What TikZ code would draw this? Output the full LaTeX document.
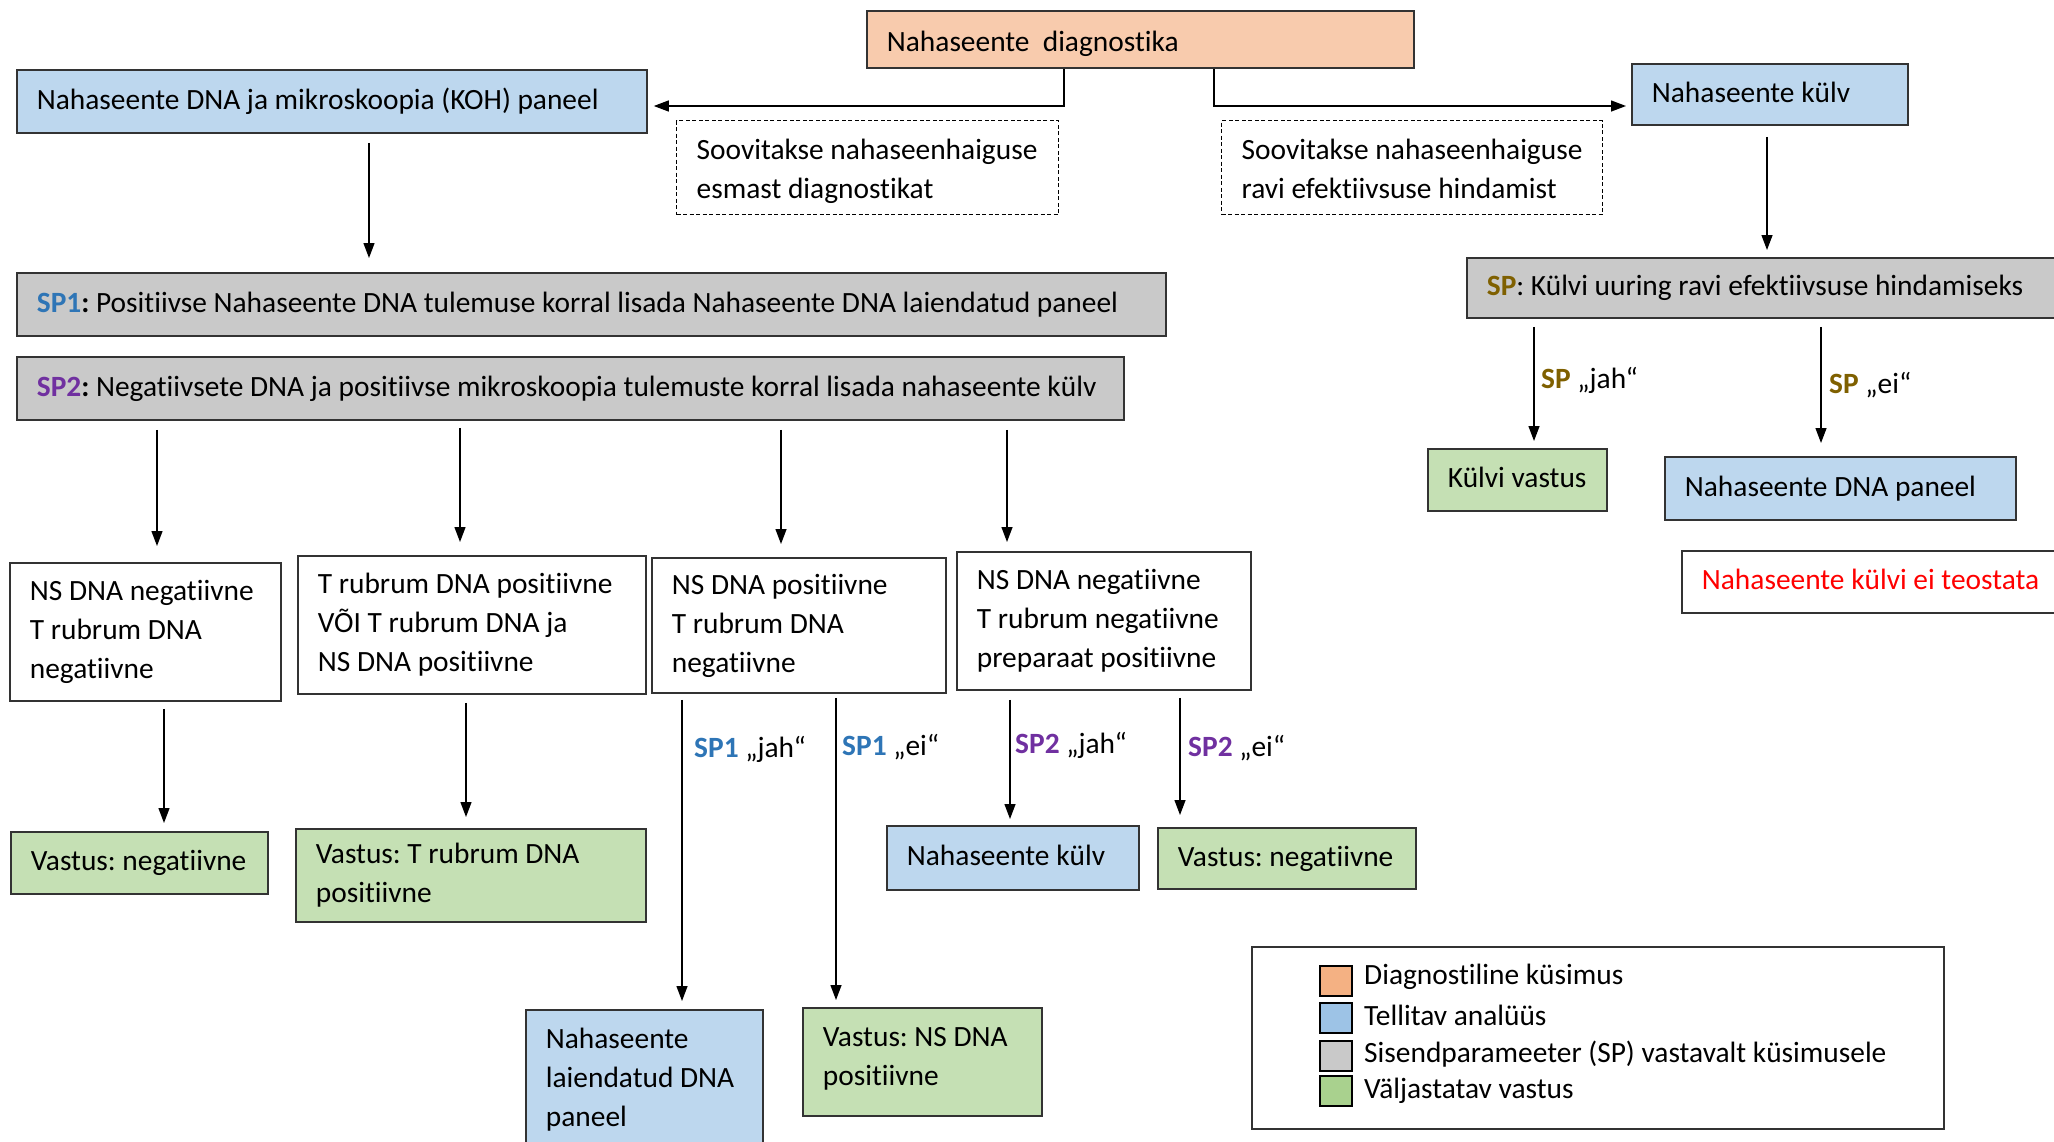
\documentclass[tikz,border=0pt]{standalone}
\usepackage{fontspec}
\setmainfont{Carlito}[Ligatures=NoCommon]
\usetikzlibrary{arrows.meta,calc}
\definecolor{orfill}{HTML}{F8CBAD}
\definecolor{blfill}{HTML}{BDD7EE}
\definecolor{grfill}{HTML}{C9C9C9}
\definecolor{gnfill}{HTML}{C5E0B4}
\definecolor{lgor}{HTML}{F4B183}
\definecolor{lgbl}{HTML}{9DC3E6}
\definecolor{lggr}{HTML}{C9C9C9}
\definecolor{lggn}{HTML}{A9D18E}
\definecolor{spone}{HTML}{2E75B6}
\definecolor{sptwo}{HTML}{7030A0}
\definecolor{spgold}{HTML}{7F6000}
\definecolor{redtxt}{HTML}{FF0000}
\newcommand\lefttext[2]{\makebox[#1][l]{\begin{tabular}{@{}l@{}}#2\end{tabular}}}
\frenchspacing
\begin{document}
\begin{tikzpicture}[x=1pt,y=-1pt,
  every node/.style={font=\fontsize{29.4}{39}\selectfont},
  base/.style={anchor=north west, inner xsep=20pt, inner ysep=0pt, line width=1.8pt, draw=black!80},
  orangebox/.style={base, fill=orfill},
  bluebox/.style={base, fill=blfill},
  graybox/.style={base, fill=grfill},
  greenbox/.style={base, fill=gnfill},
  whitebox/.style={base, fill=white},
  dashbox/.style={base, draw=black, line width=1.3pt, dash pattern=on 4pt off 2.5pt},
  arr/.style={-{Triangle[length=15pt,width=11pt]}, line width=1.3pt},
  lbl/.style={anchor=west, inner sep=0pt},
  swatch/.style={anchor=north west, draw=black, line width=1.8pt, minimum width=32pt, minimum height=30pt, inner sep=0pt},
]
\useasboundingbox (0,0) rectangle (2054,1141);

% top
\node[orangebox, minimum width=547pt, minimum height=57pt, text depth=3.7pt] (diag) at (866,10) {\lefttext{507pt}{Nahaseente\hspace{0.45em}diagnostika}};
\node[bluebox, minimum width=630pt, minimum height=63pt] (koh) at (16,69) {\lefttext{590pt}{Nahaseente DNA ja mikroskoopia (KOH) paneel}};
\node[dashbox, minimum width=382pt, minimum height=94pt, text depth=25.6pt] (d1) at (676,120) {\lefttext{342pt}{Soovitakse nahaseenhaiguse\\esmast diagnostikat}};
\node[dashbox, minimum width=381pt, minimum height=94pt, text depth=25.6pt] (d2) at (1221,120) {\lefttext{341pt}{Soovitakse nahaseenhaiguse\\ravi efektiivsuse hindamist}};
\node[bluebox, minimum width=276pt, minimum height=61pt] (kulv) at (1631,63) {\lefttext{236pt}{Nahaseente külv}};

% SP boxes
\node[graybox, minimum width=610pt, minimum height=60pt] (sp) at (1466,257) {\lefttext{570pt}{{\bfseries\color{spgold}SP}: Külvi uuring ravi efektiivsuse hindamiseks}};
\node[graybox, minimum width=1149pt, minimum height=63pt] (sp1) at (16,272) {\lefttext{1109pt}{{\bfseries\color{spone}SP1}\textbf{:} Positiivse Nahaseente DNA tulemuse korral lisada Nahaseente DNA laiendatud paneel}};
\node[graybox, minimum width=1107pt, minimum height=63pt] (sp2) at (16,356) {\lefttext{1067pt}{{\bfseries\color{sptwo}SP2}\textbf{:} Negatiivsete DNA ja positiivse mikroskoopia tulemuste korral lisada nahaseente külv}};

% middle row
\node[whitebox, minimum width=271pt, minimum height=138pt] (bA) at (9,562) {\lefttext{231pt}{NS DNA negatiivne\\T rubrum DNA\\negatiivne}};
\node[whitebox, minimum width=348pt, minimum height=138pt] (bB) at (297,555) {\lefttext{308pt}{T rubrum DNA positiivne\\VÕI T rubrum DNA ja\\NS DNA positiivne}};
\node[whitebox, minimum width=294pt, minimum height=135pt] (bC) at (651,557) {\lefttext{254pt}{NS DNA positiivne\\T rubrum DNA\\negatiivne}};
\node[whitebox, minimum width=294pt, minimum height=138pt] (bD) at (956,551) {\lefttext{254pt}{NS DNA negatiivne\\T rubrum negatiivne\\preparaat positiivne}};

% results
\node[greenbox, minimum width=257pt, minimum height=62pt] (vA) at (10,831) {\lefttext{217pt}{Vastus: negatiivne}};
\node[greenbox, minimum width=350pt, minimum height=93pt] (vB) at (295,828) {\lefttext{310pt}{Vastus: T rubrum DNA\\positiivne}};
\node[bluebox, minimum width=237pt, minimum height=140pt] (lai) at (525,1009) {\lefttext{197pt}{Nahaseente\\laiendatud DNA\\paneel}};
\node[greenbox, minimum width=239pt, minimum height=108pt, text depth=39.6pt] (vC) at (802,1007) {\lefttext{199pt}{Vastus: NS DNA\\positiivne}};
\node[bluebox, minimum width=252pt, minimum height=64pt] (kulv2) at (886,825) {\lefttext{212pt}{Nahaseente külv}};
\node[greenbox, minimum width=258pt, minimum height=61pt] (vD) at (1157,827) {\lefttext{218pt}{Vastus: negatiivne}};

\node[greenbox, minimum width=179pt, minimum height=62pt] (kv) at (1427,448) {\lefttext{139pt}{Külvi vastus}};
\node[bluebox, minimum width=351pt, minimum height=63pt] (dnap) at (1664,456) {\lefttext{311pt}{Nahaseente DNA paneel}};
\node[whitebox, minimum width=420pt, minimum height=62pt] (red) at (1681,550) {\lefttext{380pt}{\color{redtxt}Nahaseente külvi ei teostata}};

% coordinates for arrow x positions
\coordinate (jL) at (1064,106);
\coordinate (jR) at (1214,106);
\coordinate (xK) at (369,0);
\coordinate (xKv) at (1767,0);
\coordinate (xA) at (157,0);
\coordinate (xB) at (460,0);
\coordinate (xC) at (781,0);
\coordinate (xD) at (1007,0);
\coordinate (xA2) at (164,0);
\coordinate (xB2) at (466,0);
\coordinate (xC1) at (682,0);
\coordinate (xC2) at (836,0);
\coordinate (xD1) at (1010,0);
\coordinate (xD2) at (1180,0);
\coordinate (xS1) at (1534,0);
\coordinate (xS2) at (1821,0);

\draw[arr, shorten >=6pt] (diag.south -| jL) |- (koh.east |- jL);
\draw[arr, shorten >=5pt] (diag.south -| jR) |- (kulv.west |- jR);
\draw[arr, shorten <=9pt, shorten >=14pt] (koh.south -| xK) -- (sp1.north -| xK);
\draw[arr, shorten <=11pt, shorten >=7pt] (kulv.south -| xKv) -- (sp.north -| xKv);

\draw[arr, shorten <=9pt, shorten >=16pt] (sp2.south -| xA) -- (bA.north -| xA);
\draw[arr, shorten <=7pt, shorten >=13pt] (sp2.south -| xB) -- (bB.north -| xB);
\draw[arr, shorten <=9pt, shorten >=13pt] (sp2.south -| xC) -- (bC.north -| xC);
\draw[arr, shorten <=9pt, shorten >=9pt] (sp2.south -| xD) -- (bD.north -| xD);

\draw[arr, shorten <=7pt, shorten >=8pt] (bA.south -| xA2) -- (vA.north -| xA2);
\draw[arr, shorten <=8pt, shorten >=11pt] (bB.south -| xB2) -- (vB.north -| xB2);
\draw[arr, shorten <=6pt, shorten >=8pt] (bC.south -| xC1) -- (lai.north -| xC1);
\draw[arr, shorten <=4pt, shorten >=7pt] (bC.south -| xC2) -- (vC.north -| xC2);
\draw[arr, shorten <=9pt, shorten >=6pt] (bD.south -| xD1) -- (kulv2.north -| xD1);
\draw[arr, shorten <=7pt, shorten >=12pt] (bD.south -| xD2) -- (vD.north -| xD2);

\draw[arr, shorten <=8pt, shorten >=7pt] (sp.south -| xS1) -- (kv.north -| xS1);
\draw[arr, shorten <=8pt, shorten >=13pt] (sp.south -| xS2) -- (dnap.north -| xS2);

% labels
\node[lbl] (l1) at (694,749) {{\bfseries\color{spone}SP1} „jah“};
\node[lbl] (l2) at (842,747) {{\bfseries\color{spone}SP1} „ei“};
\node[lbl] (l3) at (1015,745) {{\bfseries\color{sptwo}SP2} „jah“};
\node[lbl] (l4) at (1188,748) {{\bfseries\color{sptwo}SP2} „ei“};
\node[lbl] (l5) at (1541,380) {{\bfseries\color{spgold}SP} „jah“};
\node[lbl] (l6) at (1829,385) {{\bfseries\color{spgold}SP} „ei“};

% legend
\node[base, draw=black!80, line width=1.5pt, fill=white, minimum width=692pt, minimum height=182pt] (leg) at (1251,946) {};
\node[swatch, fill=lgor] (s1) at (1319,965) {};
\node[swatch, fill=lgbl] (s2) at (1319,1002) {};
\node[swatch, fill=lggr] (s3) at (1319,1040) {};
\node[swatch, fill=lggn] (s4) at (1319,1075) {};
\node[lbl] (t1) at (1364,977) {Diagnostiline küsimus};
\node[lbl] (t2) at (1364,1015) {Tellitav analüüs};
\node[lbl] (t3) at (1364,1054) {Sisendparameeter (SP) vastavalt küsimusele};
\node[lbl] (t4) at (1364,1091) {Väljastatav vastus};
\end{tikzpicture}
\end{document}
